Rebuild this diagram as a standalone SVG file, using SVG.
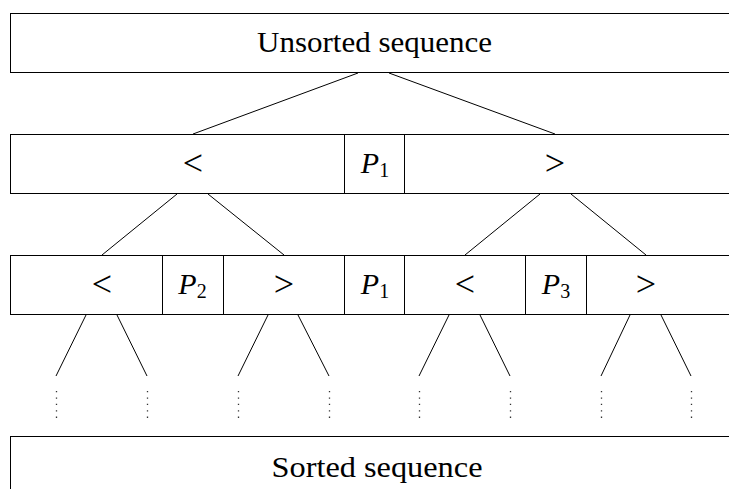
<svg xmlns="http://www.w3.org/2000/svg" width="729" height="489" viewBox="0 0 729 489">
  <style>
    .box { fill: #fff; stroke: #000; stroke-width: 1; }
    .txt { font-family: "Liberation Serif", "DejaVu Serif", serif; font-size: 29px; fill: #000; text-anchor: middle; }
    .rel { font-size: 36px; }
    .mi { font-style: italic; font-size: 30px; }
    .sub { font-size: 20px; font-style: normal; }
    .edge { stroke: #000; stroke-width: 1; fill: none; }
    .dots { stroke: #333; stroke-width: 1.3; stroke-dasharray: 1.3 5.1; fill: none; }
  </style>
  <rect width="729" height="489" fill="#fff"/>

  <!-- input sequence -->
  <g id="unsorted">
    <rect class="box" x="10.5" y="13.5" width="730" height="59"/>
    <text class="txt" x="374.5" y="52" textLength="235" lengthAdjust="spacingAndGlyphs">Unsorted sequence</text>
  </g>

  <!-- first partition around P1 -->
  <g id="level1">
    <g id="l1-less">
      <rect class="box" x="10.5" y="134.5" width="334" height="59"/>
      <text class="txt rel" x="193" y="175">&lt;</text>
    </g>
    <g id="l1-p1">
      <rect class="box" x="344.5" y="134.5" width="60" height="59"/>
      <text class="txt mi" x="375" y="173">P<tspan class="sub" dy="4">1</tspan></text>
    </g>
    <g id="l1-greater">
      <rect class="box" x="404.5" y="134.5" width="336" height="59"/>
      <text class="txt rel" x="555" y="175">&gt;</text>
    </g>
  </g>

  <!-- second partition: P2 on the left, P3 on the right -->
  <g id="level2">
    <g id="l2-less-a">
      <rect class="box" x="10.5" y="255.5" width="152" height="59"/>
      <text class="txt rel" x="102" y="296">&lt;</text>
    </g>
    <g id="l2-p2">
      <rect class="box" x="162.5" y="255.5" width="61" height="59"/>
      <text class="txt mi" x="192.5" y="294">P<tspan class="sub" dy="4">2</tspan></text>
    </g>
    <g id="l2-greater-a">
      <rect class="box" x="223.5" y="255.5" width="121" height="59"/>
      <text class="txt rel" x="284" y="296">&gt;</text>
    </g>
    <g id="l2-p1">
      <rect class="box" x="344.5" y="255.5" width="60" height="59"/>
      <text class="txt mi" x="375" y="294">P<tspan class="sub" dy="4">1</tspan></text>
    </g>
    <g id="l2-less-b">
      <rect class="box" x="404.5" y="255.5" width="121" height="59"/>
      <text class="txt rel" x="465" y="296">&lt;</text>
    </g>
    <g id="l2-p3">
      <rect class="box" x="525.5" y="255.5" width="61" height="59"/>
      <text class="txt mi" x="556" y="294">P<tspan class="sub" dy="4">3</tspan></text>
    </g>
    <g id="l2-greater-b">
      <rect class="box" x="586.5" y="255.5" width="154" height="59"/>
      <text class="txt rel" x="646" y="296">&gt;</text>
    </g>
  </g>

  <!-- output sequence -->
  <g id="sorted">
    <rect class="box" x="10.5" y="436.5" width="730" height="70"/>
    <text class="txt" x="377" y="476.5" textLength="211" lengthAdjust="spacingAndGlyphs">Sorted sequence</text>
  </g>

  <!-- connectors between the levels -->
  <g id="connectors">
    <line class="edge" x1="358" y1="73" x2="193" y2="134"/>
    <line class="edge" x1="389" y1="73" x2="555" y2="134"/>

    <line class="edge" x1="177" y1="194" x2="102" y2="255"/>
    <line class="edge" x1="208" y1="194" x2="284" y2="255"/>
    <line class="edge" x1="540" y1="194" x2="465" y2="255"/>
    <line class="edge" x1="571" y1="194" x2="646" y2="255"/>

    <line class="edge" x1="86" y1="315" x2="56" y2="376"/>
    <line class="edge" x1="117" y1="315" x2="147" y2="376"/>
    <line class="edge" x1="268" y1="315" x2="238" y2="376"/>
    <line class="edge" x1="298" y1="315" x2="329" y2="376"/>
    <line class="edge" x1="449" y1="315" x2="419" y2="376"/>
    <line class="edge" x1="480" y1="315" x2="510" y2="376"/>
    <line class="edge" x1="630" y1="315" x2="601" y2="376"/>
    <line class="edge" x1="661" y1="315" x2="691" y2="376"/>

    <!-- vertical ellipses -->
    <line class="dots" x1="56.5" y1="391" x2="56.5" y2="420"/>
    <line class="dots" x1="147.5" y1="391" x2="147.5" y2="420"/>
    <line class="dots" x1="238.5" y1="391" x2="238.5" y2="420"/>
    <line class="dots" x1="329.5" y1="391" x2="329.5" y2="420"/>
    <line class="dots" x1="419.5" y1="391" x2="419.5" y2="420"/>
    <line class="dots" x1="510.5" y1="391" x2="510.5" y2="420"/>
    <line class="dots" x1="601.5" y1="391" x2="601.5" y2="420"/>
    <line class="dots" x1="691.5" y1="391" x2="691.5" y2="420"/>
  </g>
</svg>
